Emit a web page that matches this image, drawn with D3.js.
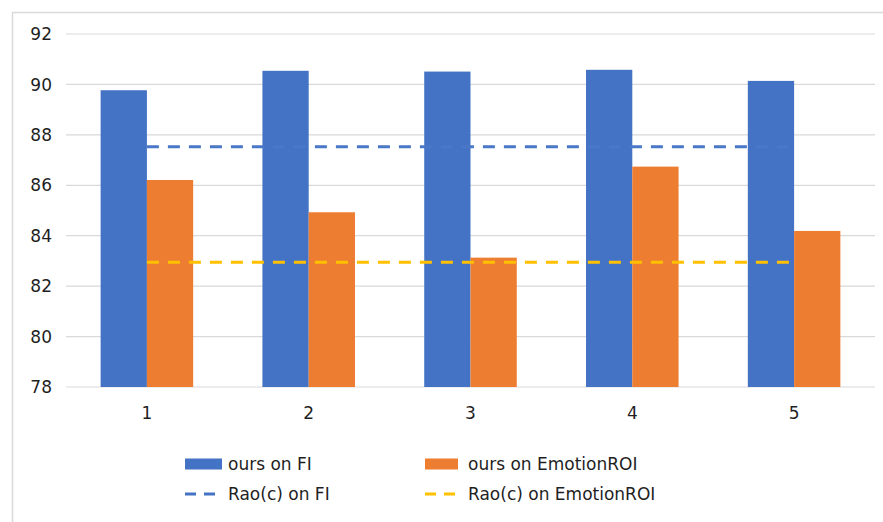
<!DOCTYPE html>
<html>
<head>
<meta charset="utf-8">
<script src="https://cdn.jsdelivr.net/npm/d3@7/dist/d3.min.js"></script>
<style>
  html, body { margin: 0; padding: 0; background: #fff; }
  svg { display: block; }
  text { font-family: "DejaVu Sans", sans-serif; fill: #1f1f1f; }
</style>
</head>
<body>
<svg id="chart" width="883" height="522"></svg>
<script>
// Runs evaluated on both datasets
const categories = ["1", "2", "3", "4", "5"];
const oursFI = [89.77, 90.54, 90.51, 90.58, 90.14];
const oursEmotionROI = [86.21, 84.93, 83.13, 86.74, 84.19];
// Baseline reference levels (Rao(c))
const raoFI = 87.53;
const raoEmotionROI = 82.95;
const yTicks = [78, 80, 82, 84, 86, 88, 90, 92];
const legendLabels = ["ours on FI", "ours on EmotionROI", "Rao(c) on FI", "Rao(c) on EmotionROI"];

const colors = { fi: "#4472C4", roi: "#ED7D31", raoFI: "#4472C4", raoROI: "#FFC000" };

const svg = d3.select("#chart");
const plot = { left: 66, right: 875, top: 34, bottom: 387 };

// Outer frame
svg.append("rect")
  .attr("x", 12.5).attr("y", 12.5)
  .attr("width", 900).attr("height", 540)
  .attr("fill", "none").attr("stroke", "#d9d9d9").attr("stroke-width", 1.5);

const x = d3.scaleBand()
  .domain(categories)
  .range([plot.left, plot.right])
  .paddingInner(0.428)
  .paddingOuter(0.214);

const x1 = d3.scaleBand()
  .domain(["fi", "roi"])
  .range([0, x.bandwidth()]);

const y = d3.scaleLinear().domain([78, 92]).range([plot.bottom, plot.top]);

// Gridlines
svg.append("g")
  .selectAll("line")
  .data(yTicks)
  .join("line")
  .attr("x1", plot.left).attr("x2", plot.right)
  .attr("y1", d => y(d)).attr("y2", d => y(d))
  .attr("stroke", "#d9d9d9").attr("stroke-width", 1.2);

// Y tick labels
svg.append("g")
  .selectAll("text")
  .data(yTicks)
  .join("text")
  .attr("x", 52).attr("y", d => y(d))
  .attr("dy", "0.36em")
  .attr("text-anchor", "end")
  .attr("font-size", 17)
  .text(d => d);

// X tick labels
svg.append("g")
  .selectAll("text")
  .data(categories)
  .join("text")
  .attr("x", d => x(d) + x.bandwidth() / 2)
  .attr("y", 413)
  .attr("dy", "0.36em")
  .attr("text-anchor", "middle")
  .attr("font-size", 17)
  .text(d => d);

// Bars
const groups = svg.append("g")
  .selectAll("g")
  .data(categories.map((c, i) => ({ c, fi: oursFI[i], roi: oursEmotionROI[i] })))
  .join("g")
  .attr("transform", d => `translate(${x(d.c)},0)`);

groups.selectAll("rect")
  .data(d => [{ k: "fi", v: d.fi }, { k: "roi", v: d.roi }])
  .join("rect")
  .attr("x", d => x1(d.k))
  .attr("width", x1.bandwidth())
  .attr("y", d => y(d.v))
  .attr("height", d => y(78) - y(d.v))
  .attr("fill", d => colors[d.k]);

// Baseline dashed lines spanning the category centers
const lineGen = d3.line().x(d => x(d[0]) + x.bandwidth() / 2).y(d => y(d[1]));
[[raoFI, "#4a78c8"], [raoEmotionROI, colors.raoROI]].forEach(([v, col]) => {
  svg.append("path")
    .datum(categories.map(c => [c, v]))
    .attr("d", lineGen)
    .attr("fill", "none")
    .attr("stroke", col)
    .attr("stroke-width", 3)
    .attr("stroke-dasharray", "12,9");
});

// Legend
const legend = svg.append("g");
const legendItems = [
  { label: legendLabels[0], type: "bar", color: colors.fi, x: 185, y: 464, w: 37 },
  { label: legendLabels[1], type: "bar", color: colors.roi, x: 425, y: 464, w: 33 },
  { label: legendLabels[2], type: "line", color: colors.raoFI, x: 185, y: 494, w: 34 },
  { label: legendLabels[3], type: "line", color: colors.raoROI, x: 425, y: 494, w: 34 }
];
legendItems.forEach(it => {
  if (it.type === "bar") {
    legend.append("rect")
      .attr("x", it.x).attr("y", it.y - 5.5)
      .attr("width", it.w).attr("height", 11)
      .attr("fill", it.color);
  } else {
    legend.append("line")
      .attr("x1", it.x).attr("x2", it.x + it.w)
      .attr("y1", it.y).attr("y2", it.y)
      .attr("stroke", it.color).attr("stroke-width", 3)
      .attr("stroke-dasharray", "11,8");
  }
  legend.append("text")
    .attr("x", it.x + 43)
    .attr("y", it.y)
    .attr("dy", "0.36em")
    .attr("font-size", 17)
    .text(it.label);
});
</script>
</body>
</html>
